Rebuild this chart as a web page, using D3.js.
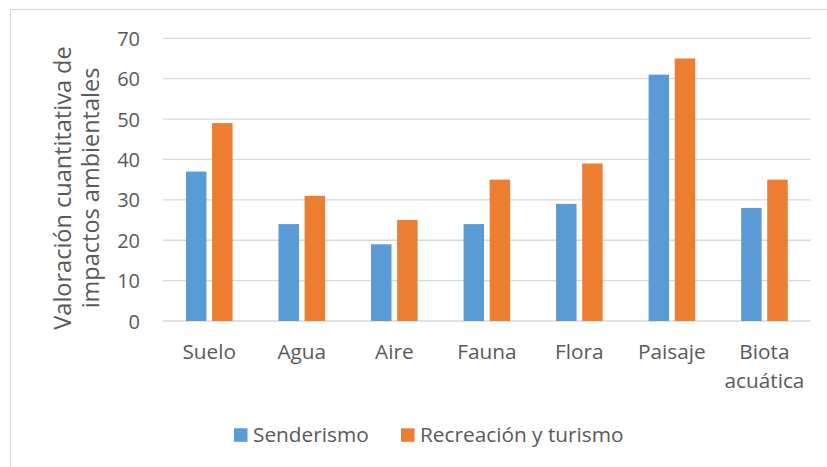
<!DOCTYPE html>
<html>
<head>
<meta charset="utf-8">
<script src="https://cdn.jsdelivr.net/npm/d3@7"></script>
<style>
  body { margin: 0; background: #fff; }
  text { font-family: "Open Sans", sans-serif; fill: #595959; }
</style>
</head>
<body>
<div id="chart"></div>
<script>
// Data
var categories = ["Suelo", "Agua", "Aire", "Fauna", "Flora", "Paisaje", "Biota acuática"];
var seriesNames = ["Senderismo", "Recreación y turismo"];
var senderismo = [37, 24, 19, 24, 29, 61, 28];
var recreacion = [49, 31, 25, 35, 39, 65, 35];
var yTicks = [0, 10, 20, 30, 40, 50, 60, 70];
var colors = ["#5B9BD5", "#ED7D31"];

var svgWidth = 827;
var svgHeight = 467;

var plot = { left: 163, right: 810.7, top: 38.3, bottom: 321 };

var svg = d3.select("#chart")
  .append("svg")
  .attr("width", svgWidth)
  .attr("height", svgHeight);

// chart border
svg.append("rect")
  .attr("x", 10.5)
  .attr("y", 9.5)
  .attr("width", 830)
  .attr("height", 470)
  .attr("fill", "none")
  .attr("stroke", "#d9d9d9")
  .attr("stroke-width", 1.2);

var yScale = d3.scaleLinear()
  .domain([0, 70])
  .range([plot.bottom, plot.top]);

var x0 = d3.scaleBand()
  .domain(categories)
  .range([plot.left, plot.right])
  .padding(0);

var groupWidth = 46.6;
var x1 = d3.scaleBand()
  .domain(seriesNames)
  .range([0, groupWidth])
  .paddingInner(0.215)
  .paddingOuter(0);

// gridlines
svg.append("g")
  .selectAll("line")
  .data(yTicks)
  .enter()
  .append("line")
  .attr("x1", plot.left)
  .attr("x2", plot.right)
  .attr("y1", d => yScale(d))
  .attr("y2", d => yScale(d))
  .attr("stroke", "#d9d9d9")
  .attr("stroke-width", 1.3);

// y tick labels
var yAxis = d3.axisLeft(yScale).tickValues(yTicks).tickSize(0).tickPadding(0);
var yG = svg.append("g")
  .attr("transform", "translate(140, 0)")
  .call(yAxis);
yG.select(".domain").remove();
yG.selectAll("text")
  .attr("font-size", "20px")
  .attr("font-family", "Open Sans, sans-serif")
  .attr("fill", "#595959")
  .attr("dy", "0.35em");

// bars
var rows = categories.map(function(c, i) {
  return { cat: c, values: [senderismo[i], recreacion[i]] };
});

var groups = svg.append("g")
  .selectAll("g")
  .data(rows)
  .enter()
  .append("g")
  .attr("transform", d => `translate(${x0(d.cat) + (x0.bandwidth() - groupWidth) / 2}, 0)`);

groups.selectAll("rect")
  .data(d => d.values.map((v, j) => ({ name: seriesNames[j], value: v, j: j })))
  .enter()
  .append("rect")
  .attr("x", d => x1(d.name))
  .attr("y", d => yScale(d.value))
  .attr("width", x1.bandwidth())
  .attr("height", d => plot.bottom - yScale(d.value))
  .attr("fill", d => colors[d.j]);

// category labels (wrap "Biota acuática")
var catG = svg.append("g");
categories.forEach(function(c) {
  var words = c.split(" ");
  var t = catG.append("text")
    .attr("x", x0(c) + x0.bandwidth() / 2)
    .attr("y", 359)
    .attr("text-anchor", "middle")
    .attr("font-size", "20.8px");
  words.forEach(function(w, k) {
    t.append("tspan")
      .attr("x", x0(c) + x0.bandwidth() / 2)
      .attr("dy", k === 0 ? 0 : 29)
      .text(w);
  });
});

// y axis title
var yTitle = svg.append("text")
  .attr("transform", "translate(0, 188) rotate(-90)")
  .attr("text-anchor", "middle")
  .attr("font-size", "23.5px");
yTitle.append("tspan").attr("x", 0).attr("y", 71).text("Valoración cuantitativa de");
yTitle.append("tspan").attr("x", 0).attr("y", 99).text("impactos ambientales");

// legend
var legendX = [234, 401];
seriesNames.forEach(function(name, i) {
  svg.append("rect")
    .attr("x", legendX[i])
    .attr("y", 428.3)
    .attr("width", 13.5)
    .attr("height", 13.5)
    .attr("fill", colors[i]);
  svg.append("text")
    .attr("x", legendX[i] + 19)
    .attr("y", 442)
    .attr("font-size", "20.8px")
    .text(name);
});
</script>
</body>
</html>
